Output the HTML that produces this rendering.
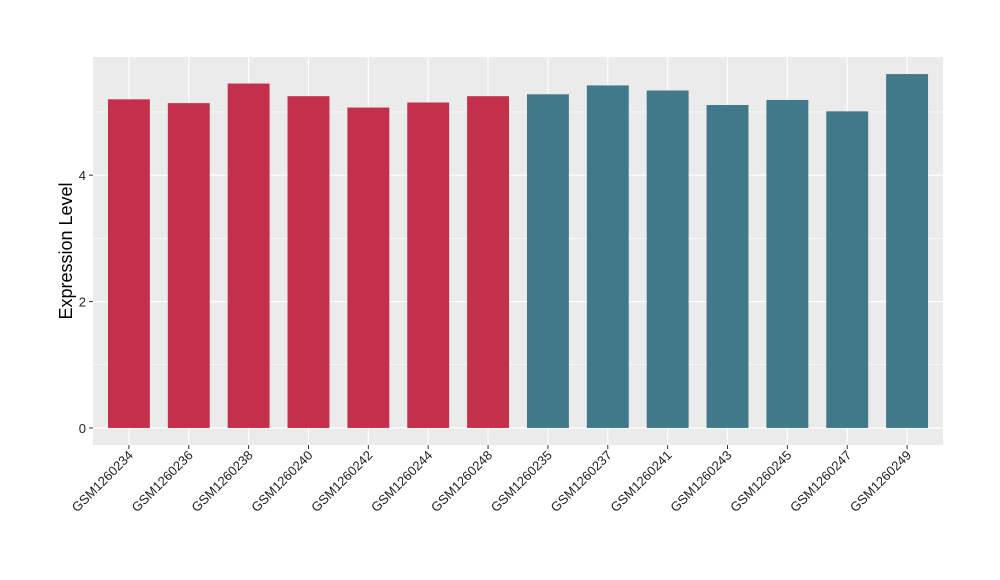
<!DOCTYPE html>
<html><head><meta charset="utf-8"><style>body{margin:0;background:#fff}svg{display:block;font-family:"Liberation Sans",sans-serif}</style></head>
<body>
<svg id="c" width="1000" height="580"></svg>
<script>
const categories=["GSM1260234","GSM1260236","GSM1260238","GSM1260240","GSM1260242","GSM1260244","GSM1260248","GSM1260235","GSM1260237","GSM1260241","GSM1260243","GSM1260245","GSM1260247","GSM1260249"];
const values=[5.20,5.14,5.45,5.25,5.07,5.15,5.25,5.28,5.42,5.34,5.11,5.19,5.01,5.60];
const groups=["a","a","a","a","a","a","a","b","b","b","b","b","b","b"];
const yTicks=[0,2,4];
const yMinor=[1,3,5];
const colors={a:"#C3304A",b:"#41798A"};
const NS="http://www.w3.org/2000/svg",svg=document.getElementById('c');
const L=93,R=943,T=57,B=445,ymin=-0.27,ymax=5.87;
const y=v=>B-(v-ymin)/(ymax-ymin)*(B-T);
const step=(R-L)/(categories.length-1+1.2);
const x=i=>L+step*(0.6+i);
function mk(t,a,p){const e=document.createElementNS(NS,t);for(const k in a)e.setAttribute(k,a[k]);(p||svg).appendChild(e);return e;}
const bg=mk('rect',{x:L,y:T,width:R-L,height:B-T,fill:'#EBEBEB'});


yMinor.forEach(v=>{const l=mk('line',{x1:L,x2:R,y1:y(v),y2:y(v),stroke:'#fff','stroke-width':0.6});

});
yTicks.forEach(v=>{const l=mk('line',{x1:L,x2:R,y1:y(v),y2:y(v),stroke:'#fff','stroke-width':1.2});


const t=mk('line',{x1:L-4,x2:L,y1:y(v),y2:y(v),stroke:'#333','stroke-width':1});


const tx=mk('text',{x:L-7,y:y(v)+5,'text-anchor':'end','font-size':13,fill:'#222'});tx.textContent=v;

});
categories.forEach((c,i)=>{const l=mk('line',{x1:x(i),x2:x(i),y1:T,y2:B,stroke:'#fff','stroke-width':1.2});

});
categories.forEach((c,i)=>{const w=step*0.7;
const r=mk('rect',{x:x(i)-w/2,y:y(values[i]),width:w,height:y(0)-y(values[i]),fill:colors[groups[i]]});


const t=mk('line',{x1:x(i),x2:x(i),y1:B,y2:B+4,stroke:'#333','stroke-width':1});


const tx=mk('text',{x:x(i)+5,y:B+11,'text-anchor':'end','font-size':13,fill:'#222',transform:`rotate(-45 ${x(i)+5} ${B+11})`});tx.textContent=c;

});
const yt=mk('text',{x:72,y:(T+B)/2,'text-anchor':'middle','font-size':18,fill:'#000',transform:`rotate(-90 72 ${(T+B)/2})`});yt.textContent='Expression Level';


</script>
</body></html>
